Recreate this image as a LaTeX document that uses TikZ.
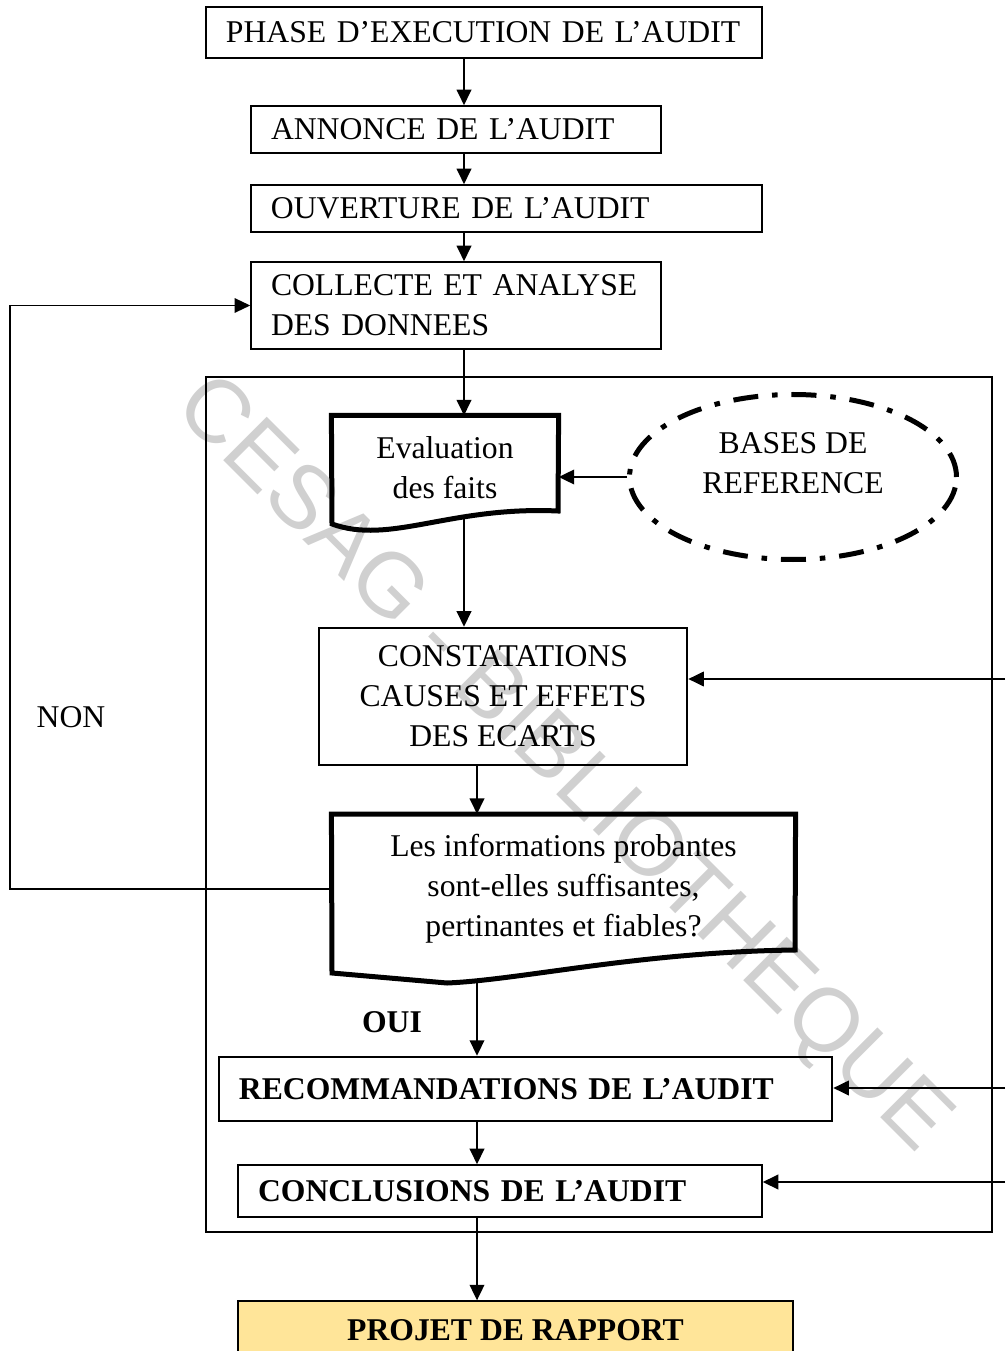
\documentclass[tikz,border=0pt]{standalone}
\usepackage{fontspec}
\setmainfont{Liberation Serif}
\newfontfamily\wmfont{Liberation Sans}
\usepackage{tikz}
\usetikzlibrary{shapes,arrows,fit, positioning, arrows.meta}
\usetikzlibrary{backgrounds}
\definecolor{rapportyellow}{RGB}{255,229,153}
\definecolor{watermarkgray}{RGB}{208,208,208}

\begin{document}
\begin{tikzpicture}[x=0.36pt, y=-0.36pt, every node/.style={font=\fontsize{11.4}{14.4}\selectfont}]
	\tikzstyle{box_style}=[rectangle, draw, line width=0.55pt, inner xsep=7.2pt, inner ysep=0pt, align=left]
	\tikzstyle{midbox_style}=[rectangle, draw, line width=0.9pt, inner xsep=7.2pt, inner ysep=0pt]
	\tikzstyle{doc_style}=[rectangle, inner sep=0pt, align=center]
	\tikzstyle{arrow_style}=[-{Triangle[length=5.6pt,width=5.2pt]}, line width=0.8pt]
	\tikzstyle{loop_style}=[-{Triangle[length=5.6pt,width=5.2pt]}, line width=0.55pt]
	\useasboundingbox (0,0) rectangle (1005,1351);

	% watermark
	\node at (561,766) [rotate=-45, text=watermarkgray, font=\wmfont\fontsize{32.2}{33}\selectfont] (watermark) {CESAG - BIBLIOTHEQUE};

	% guide coordinates
	\coordinate (spine_a) at (464,0);
	\coordinate (spine_b) at (477,0);
	\coordinate (loop_x) at (10,0);
	\coordinate (right_a) at (1005,679);
	\coordinate (right_b) at (1005,1088);
	\coordinate (right_c) at (1005,1182);

	% top boxes
	\node at (484,32.5) [box_style, text width=185.8pt, minimum height=18.4pt] (phase) {PHASE D'EXECUTION DE L'AUDIT};
	\node at (456,129.5) [box_style, text width=133.2pt, minimum height=16.9pt] (annonce) {ANNONCE DE L'AUDIT};
	\node at (506.5,208.5) [box_style, text width=169.6pt, minimum height=16.9pt] (ouverture) {OUVERTURE DE L'AUDIT};
	\node at (456,305.5) [box_style, text width=133.2pt, minimum height=31.3pt] (collecte) {COLLECTE ET ANALYSE\\DES DONNEES};

	% frame
	\draw[line width=0.9pt] (206,377) rectangle (992,1232);

	% evaluation
	\node at (445,468) [doc_style, minimum width=81.4pt, minimum height=37.4pt] (evaluation) {Evaluation\\des faits};
	\draw[line width=1.8pt] (558,511) -- (evaluation.north east) -- (evaluation.north west) -- (332,524) .. controls (390,545) and (450,506) .. (558,511) -- cycle;
	\coordinate (evaluation_foot) at (464,519);

	% bases de reference
	\node at (793,477) [ellipse, draw, inner sep=0pt, line width=1.8pt, dash pattern=on 9pt off 5pt on 2pt off 5pt, minimum width=117.7pt, minimum height=59.4pt] (bases) {\raisebox{0pt}[\height][\dimexpr\depth+8.6pt\relax]{\begin{tabular}{@{}c@{}}BASES DE\\REFERENCE\end{tabular}}};

	% constatations
	\node at (503,696.5) [midbox_style, minimum width=132.5pt, minimum height=49.3pt, align=center] (constatations) {CONSTATATIONS\\CAUSES ET EFFETS\\DES ECARTS};

	% question
	\node at (563.5,889) [doc_style, minimum width=166.7pt, minimum height=53.6pt] (question) {Les informations probantes\\sont-elles suffisantes,\\pertinantes et fiables?};
	\draw[line width=1.8pt] (795,950) -- (question.north east) -- (question.north west) -- (332,973) -- (447,983) .. controls (520,980) and (640,952) .. (795,950) -- cycle;
	\coordinate (question_foot) at (477,982);

	% bottom boxes
	\node at (525.5,1089) [midbox_style, text width=206.3pt, minimum height=23pt, align=left] (recommandations) {\textbf{RECOMMANDATIONS DE L'AUDIT}};
	\node at (500,1191) [box_style, text width=174.2pt, minimum height=18.7pt] (conclusions) {\textbf{CONCLUSIONS DE L'AUDIT}};
	\node at (515.5,1330.5) [rectangle, draw, line width=0.5pt, fill=rapportyellow, minimum width=199.8pt, minimum height=21.2pt] (rapport) {\textbf{PROJET DE RAPPORT}};

	% labels
	\node at (71,717) (non) {NON};
	\node at (392,1022) (oui) {\textbf{OUI}};

	% connect: main flow
	\path[arrow_style] (phase.south -| spine_a) edge (annonce.north -| spine_a);
	\path[arrow_style] (annonce.south -| spine_a) edge (ouverture.north -| spine_a);
	\path[arrow_style] (ouverture.south -| spine_a) edge (collecte.north -| spine_a);
	\path[arrow_style] (collecte.south -| spine_a) edge (evaluation.north -| spine_a);
	\path[arrow_style] (evaluation_foot) edge (constatations.north -| evaluation_foot);
	\path[arrow_style] (constatations.south -| spine_b) edge (question.north -| spine_b);
	\path[arrow_style] (question_foot) edge (recommandations.north -| question_foot);
	\path[arrow_style] (recommandations.south -| spine_b) edge (conclusions.north -| spine_b);
	\path[arrow_style] (conclusions.south -| spine_b) edge (rapport.north -| spine_b);

	% connect: bases -> evaluation
	\path[arrow_style] (bases.west) edge (evaluation.east |- bases.west);

	% connect: right side -> boxes
	\path[arrow_style] (right_a) edge (constatations.east |- right_a);
	\path[arrow_style] (right_b) edge (recommandations.east |- right_b);
	\path[arrow_style] (right_c) edge (conclusions.east |- right_c);

	% connect: NON loop
	\draw[loop_style] (question.west) -- (question.west -| loop_x) |- (collecte.west);

\end{tikzpicture}
\end{document}
